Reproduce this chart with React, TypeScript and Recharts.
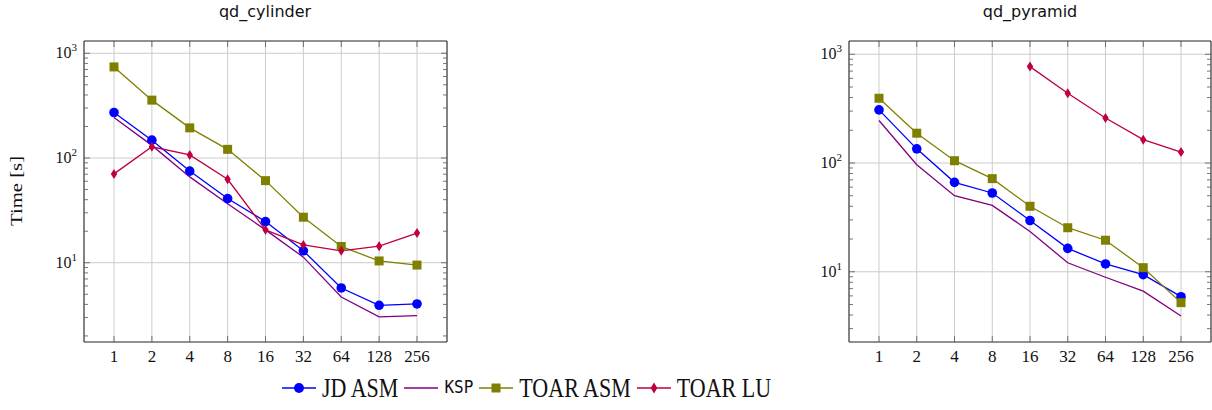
import { LineChart, Line, XAxis, YAxis, CartesianGrid, ReferenceLine } from 'recharts'

const ns = ['1', '2', '4', '8', '16', '32', '64', '128', '256']

// qd_cylinder timings [s]
const cylJd = [272, 148, 75, 41, 24.7, 13, 5.74, 3.92, 4.04]
const cylKsp = [244, 132, 66, 36.5, 20.6, 11.3, 4.7, 3.04, 3.13]
const cylToarAsm = [741, 357, 194, 121, 60.8, 27.2, 14.3, 10.4, 9.5]
const cylToarLu = [70.5, 128, 107, 62.7, 20.6, 14.8, 13, 14.4, 19.2]

// qd_pyramid timings [s]
const pyrJd = [308, 135, 66.4, 53, 29.6, 16.4, 11.8, 9.4, 5.9]
const pyrKsp = [246, 96.5, 50, 40.8, 23.5, 12.1, 8.9, 6.64, 3.92]
const pyrToarAsm = [394, 188, 105, 71.8, 40, 25.4, 19.5, 10.9, 5.2]
const pyrToarLu = [null, null, null, null, 770, 438, 259, 164, 126]

const decadeTicks = [10, 100, 1000]
const minorTicks = [2, 3, 4, 5, 6, 7, 8, 9, 20, 30, 40, 50, 60, 70, 80, 90, 200, 300, 400, 500, 600, 700, 800, 900]

const cylDomain: [number, number] = [1.75, 1310]
const pyrDomain: [number, number] = [2.26, 1324]

const BLUE = '#0000ff'
const VIOLET = '#800080'
const OLIVE = '#808000'
const PURPLE = '#bf0040'

const SERIF = '"Liberation Serif", serif'
const TICK = '#555'
const FRAME = '#222'
const GRID = '#cccccc'

const buildRows = (jd: number[], ksp: number[], ta: number[], tl: (number | null)[]) =>
  ns.map((n, i) => ({ n, jd: jd[i], ksp: ksp[i], toarAsm: ta[i], toarLu: tl[i] }))

const cylRows = buildRows(cylJd, cylKsp, cylToarAsm, cylToarLu)
const pyrRows = buildRows(pyrJd, pyrKsp, pyrToarAsm, pyrToarLu)

const isDecade = (v: number) => decadeTicks.includes(v)

const LeftTick = (p: any) => {
  const v = p.payload.value
  const major = isDecade(v)
  return (
    <g>
      <line x1={p.x} x2={p.x + (major ? 6 : 4)} y1={p.y} y2={p.y} stroke={TICK} strokeWidth={0.8} />
      {major && (
        <text x={p.x - 7} y={p.y + 5} textAnchor="end" fontFamily={SERIF} fontSize={16} fill="#111">
          <tspan>10</tspan>
          <tspan dy={-7} fontSize={11}>{Math.round(Math.log10(v))}</tspan>
        </text>
      )}
    </g>
  )
}

const RightTick = (p: any) => {
  const major = isDecade(p.payload.value)
  return <line x1={p.x - (major ? 6 : 4)} x2={p.x} y1={p.y} y2={p.y} stroke={TICK} strokeWidth={0.8} />
}

const BottomTick = (p: any) => (
  <g>
    <line x1={p.x} x2={p.x} y1={p.y} y2={p.y - 6} stroke={TICK} strokeWidth={0.8} />
    <text x={p.x} y={p.y + 20} textAnchor="middle" fontFamily={SERIF} fontSize={17} fill="#111">
      {p.payload.value}
    </text>
  </g>
)

const TopTick = (p: any) => (
  <line x1={p.x} x2={p.x} y1={p.y} y2={p.y + 6} stroke={TICK} strokeWidth={0.8} />
)

const circleDot = (color: string) => (p: any) => {
  if (p.cy == null || p.value == null) return <g key={p.key ?? p.index} />
  return <circle key={p.key ?? p.index} cx={p.cx} cy={p.cy} r={4.8} fill={color} />
}

const squareDot = (color: string) => (p: any) => {
  if (p.cy == null || p.value == null) return <g key={p.key ?? p.index} />
  return <rect key={p.key ?? p.index} x={p.cx - 4.5} y={p.cy - 4.5} width={9} height={9} fill={color} />
}

const diamondDot = (color: string) => (p: any) => {
  if (p.cy == null || p.value == null) return <g key={p.key ?? p.index} />
  const { cx, cy } = p
  return (
    <path
      key={p.key ?? p.index}
      d={`M${cx},${cy - 5} L${cx + 3.2},${cy} L${cx},${cy + 5} L${cx - 3.2},${cy} Z`}
      fill={color}
    />
  )
}

// plot box: left edge = margin.left + 50, right edge = width - margin.right - 1,
// top edge = margin.top + 1, bottom edge = 370 - margin.bottom - 20
function Panel({ rows, domain, width, margin }: { rows: any[]; domain: [number, number]; width: number; margin: any }) {
  const ticks = [...minorTicks, ...decadeTicks]
    .filter(t => t >= domain[0] && t <= domain[1])
    .sort((a, b) => a - b)
  return (
    <LineChart width={width} height={370} data={rows} margin={margin}>
      <CartesianGrid vertical horizontal={false} stroke={GRID} yAxisId="l" />
      {decadeTicks.map(v => (
        <ReferenceLine key={v} y={v} yAxisId="l" stroke={GRID} />
      ))}
      <XAxis dataKey="n" type="category" padding={{ left: 30, right: 30 }} height={20} tickSize={0} tickMargin={0}
        tickLine={false} interval={0} tick={BottomTick} axisLine={{ stroke: FRAME }} />
      <XAxis xAxisId="t" dataKey="n" type="category" orientation="top" padding={{ left: 30, right: 30 }} height={1}
        tickSize={0} tickMargin={0} tickLine={false} interval={0} tick={TopTick} axisLine={{ stroke: FRAME }} />
      <YAxis yAxisId="l" scale="log" type="number" domain={domain} allowDataOverflow ticks={ticks} interval={0}
        width={50} tickSize={0} tickMargin={0} tickLine={false} tick={LeftTick} axisLine={{ stroke: FRAME }} />
      <YAxis yAxisId="r" orientation="right" scale="log" type="number" domain={domain} allowDataOverflow ticks={ticks}
        interval={0} width={1} tickSize={0} tickMargin={0} tickLine={false} tick={RightTick} axisLine={{ stroke: FRAME }} />
      <Line yAxisId="l" type="linear" dataKey="jd" stroke={BLUE} strokeWidth={1.3} dot={circleDot(BLUE)} isAnimationActive={false} />
      <Line yAxisId="l" type="linear" dataKey="ksp" stroke={VIOLET} strokeWidth={1.3} dot={false} isAnimationActive={false} />
      <Line yAxisId="l" type="linear" dataKey="toarAsm" stroke={OLIVE} strokeWidth={1.3} dot={squareDot(OLIVE)} isAnimationActive={false} />
      <Line yAxisId="l" type="linear" dataKey="toarLu" stroke={PURPLE} strokeWidth={1.3} dot={diamondDot(PURPLE)} isAnimationActive={false} />
    </LineChart>
  )
}

const legendItems = [
  { name: 'JD ASM', color: BLUE, marker: 'circle', mono: false },
  { name: 'KSP', color: VIOLET, marker: 'none', mono: true },
  { name: 'TOAR ASM', color: OLIVE, marker: 'square', mono: false },
  { name: 'TOAR LU', color: PURPLE, marker: 'diamond', mono: false },
]

function LegendIcon({ color, marker }: { color: string; marker: string }) {
  return (
    <svg width={34} height={14} style={{ display: 'block' }}>
      <line x1={0} x2={34} y1={7} y2={7} stroke={color} strokeWidth={1.6} />
      {marker === 'circle' && <circle cx={17} cy={7} r={5} fill={color} />}
      {marker === 'square' && <rect x={12.5} y={2.5} width={9} height={9} fill={color} />}
      {marker === 'diamond' && <path d="M17,1.5 L20.3,7 L17,12.5 L13.7,7 Z" fill={color} />}
    </svg>
  )
}

export default function App() {
  return (
    <div style={{ position: 'absolute', left: 0, top: 0, width: 1212, height: 410, background: '#fff', overflow: 'hidden' }}>
      <div style={{ position: 'absolute', left: 0, top: 0 }}>
        <Panel rows={cylRows} domain={cylDomain} width={460} margin={{ top: 40, right: 12, bottom: 8, left: 34 }} />
      </div>
      <div style={{ position: 'absolute', left: 760, top: 0 }}>
        <Panel rows={pyrRows} domain={pyrDomain} width={452} margin={{ top: 40, right: 0, bottom: 8, left: 39 }} />
      </div>

      <div style={{ position: 'absolute', left: 165, top: 2, width: 200, textAlign: 'center', fontFamily: '"DejaVu Sans", sans-serif', fontSize: 16, color: '#111' }}>
        qd_cylinder
      </div>
      <div style={{ position: 'absolute', left: 930, top: 2, width: 200, textAlign: 'center', fontFamily: '"DejaVu Sans", sans-serif', fontSize: 16, color: '#111' }}>
        qd_pyramid
      </div>

      <div style={{ position: 'absolute', left: -33, top: 181, width: 100, textAlign: 'center', fontFamily: SERIF, fontSize: 17, color: '#111', transform: 'rotate(-90deg) scaleX(1.22)' }}>
        Time [s]
      </div>

      <div style={{ position: 'absolute', left: 282, top: 374, display: 'flex', alignItems: 'center', gap: 6 }}>
        {legendItems.map(it => (
          <div key={it.name} style={{ display: 'flex', alignItems: 'center', gap: 6 }}>
            <LegendIcon color={it.color} marker={it.marker} />
            <span style={{
              display: 'inline-block',
              fontFamily: it.mono ? '"DejaVu Sans Mono", monospace' : SERIF,
              fontSize: it.mono ? 16 : 22,
              lineHeight: '28px',
              color: '#111',
              transform: it.mono ? 'scaleY(1.05)' : 'scaleY(1.23)',
            }}>
              {it.name}
            </span>
          </div>
        ))}
      </div>
    </div>
  )
}
